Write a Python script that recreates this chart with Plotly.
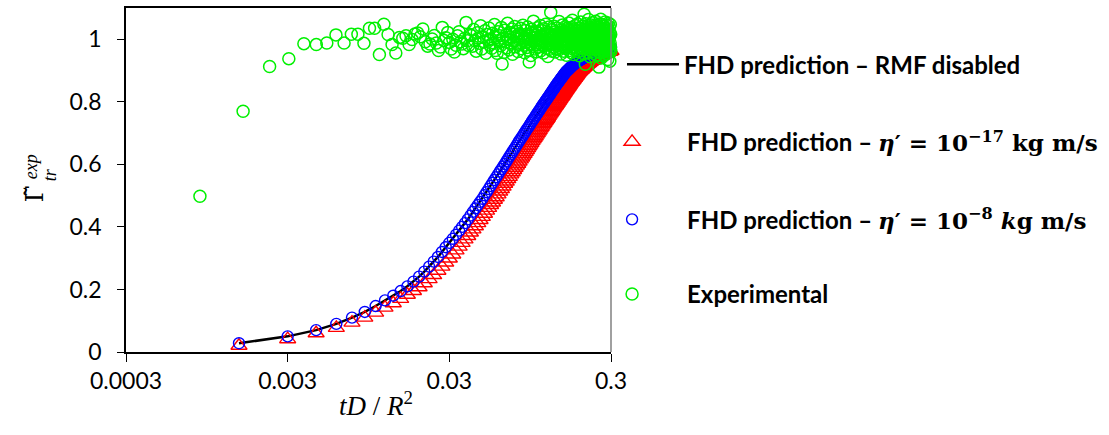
import math
import plotly.graph_objects as go

# ---------------------------------------------------------------------------
# Data
# ---------------------------------------------------------------------------
# FHD model output is sampled every 0.0015 in dimensionless time tD/R^2
TAU_STEP_FHD = 0.0015
N_FHD = 200
tau_fhd = [round(TAU_STEP_FHD * k, 4) for k in range(1, N_FHD + 1)]

# eta' = 1e-8 kg m/s
gamma_eta_1e8 = [
    0.028, 0.050, 0.070, 0.090, 0.110, 0.128, 0.147, 0.165, 0.180, 0.195,
    0.210, 0.225, 0.241, 0.257, 0.273, 0.289, 0.304, 0.320, 0.335, 0.349,
    0.362, 0.375, 0.388, 0.400, 0.412, 0.424, 0.436, 0.448, 0.459, 0.470,
    0.480, 0.490, 0.501, 0.511, 0.521, 0.531, 0.541, 0.550, 0.559, 0.568,
    0.577, 0.585, 0.593, 0.601, 0.609, 0.617, 0.625, 0.632, 0.639, 0.646,
    0.653, 0.660, 0.667, 0.674, 0.680, 0.686, 0.692, 0.698, 0.704, 0.710,
    0.716, 0.721, 0.727, 0.732, 0.738, 0.743, 0.748, 0.753, 0.758, 0.763,
    0.768, 0.773, 0.777, 0.782, 0.787, 0.791, 0.795, 0.800, 0.804, 0.808,
    0.812, 0.816, 0.820, 0.824, 0.828, 0.832, 0.836, 0.840, 0.843, 0.847,
    0.851, 0.854, 0.858, 0.861, 0.864, 0.868, 0.871, 0.874, 0.877, 0.880,
    0.883, 0.886, 0.889, 0.892, 0.895, 0.897, 0.899, 0.901, 0.903, 0.905,
    0.907, 0.909, 0.911, 0.913, 0.915, 0.917, 0.918, 0.920, 0.922, 0.923,
    0.925, 0.926, 0.928, 0.929, 0.930, 0.931, 0.932, 0.933, 0.934, 0.935,
    0.936, 0.937, 0.938, 0.939, 0.940, 0.941, 0.942, 0.943, 0.944, 0.945,
    0.946, 0.946, 0.947, 0.948, 0.949, 0.950, 0.950, 0.951, 0.952, 0.953,
    0.953, 0.954, 0.955, 0.955, 0.956, 0.957, 0.957, 0.958, 0.959, 0.960,
    0.960, 0.961, 0.961, 0.962, 0.962, 0.962, 0.963, 0.963, 0.964, 0.964,
    0.964, 0.965, 0.965, 0.966, 0.966, 0.966, 0.967, 0.967, 0.968, 0.968,
    0.968, 0.969, 0.969, 0.970, 0.970, 0.970, 0.971, 0.971, 0.971, 0.972,
    0.972, 0.972, 0.973, 0.973, 0.973, 0.974, 0.974, 0.974, 0.975, 0.975,
]

# eta' = 1e-17 kg m/s
gamma_eta_1e17 = [
    0.020, 0.041, 0.060, 0.077, 0.094, 0.110, 0.126, 0.142, 0.156, 0.170,
    0.183, 0.195, 0.207, 0.220, 0.233, 0.246, 0.260, 0.273, 0.286, 0.299,
    0.312, 0.325, 0.337, 0.349, 0.360, 0.371, 0.382, 0.392, 0.402, 0.412,
    0.422, 0.432, 0.442, 0.452, 0.461, 0.470, 0.478, 0.487, 0.495, 0.504,
    0.513, 0.521, 0.529, 0.538, 0.545, 0.553, 0.560, 0.568, 0.575, 0.582,
    0.589, 0.596, 0.602, 0.609, 0.616, 0.622, 0.628, 0.634, 0.640, 0.646,
    0.652, 0.658, 0.663, 0.669, 0.675, 0.680, 0.685, 0.690, 0.695, 0.700,
    0.705, 0.710, 0.715, 0.719, 0.724, 0.729, 0.733, 0.738, 0.742, 0.746,
    0.750, 0.755, 0.759, 0.763, 0.767, 0.771, 0.775, 0.779, 0.783, 0.787,
    0.790, 0.794, 0.797, 0.801, 0.804, 0.808, 0.811, 0.815, 0.818, 0.821,
    0.825, 0.828, 0.831, 0.835, 0.838, 0.841, 0.844, 0.847, 0.850, 0.853,
    0.856, 0.859, 0.862, 0.864, 0.867, 0.870, 0.872, 0.875, 0.877, 0.880,
    0.882, 0.885, 0.887, 0.890, 0.892, 0.895, 0.897, 0.898, 0.900, 0.902,
    0.903, 0.905, 0.907, 0.908, 0.910, 0.911, 0.913, 0.915, 0.916, 0.918,
    0.919, 0.920, 0.922, 0.923, 0.924, 0.925, 0.927, 0.928, 0.929, 0.930,
    0.931, 0.932, 0.932, 0.933, 0.934, 0.935, 0.936, 0.937, 0.937, 0.938,
    0.939, 0.940, 0.941, 0.941, 0.942, 0.943, 0.944, 0.945, 0.945, 0.946,
    0.946, 0.947, 0.948, 0.949, 0.949, 0.950, 0.950, 0.951, 0.952, 0.953,
    0.953, 0.954, 0.954, 0.955, 0.955, 0.956, 0.956, 0.957, 0.957, 0.958,
    0.959, 0.960, 0.960, 0.961, 0.961, 0.961, 0.962, 0.962, 0.962, 0.963,
]

# With the RMF switched off the prediction coincides with the eta' = 1e-8 run
gamma_rmf_off = gamma_eta_1e8

# Experimental record: first frame at 0.00086, then one frame every 0.00073
TAU0_EXP = 0.00013
TAU_STEP_EXP = 0.00073
N_EXP = 410
tau_exp = [round(TAU0_EXP + TAU_STEP_EXP * k, 5) for k in range(1, N_EXP + 1)]

gamma_exp = [
    0.498, 0.770, 0.913, 0.938, 0.986, 0.983, 0.988, 1.014, 0.988, 1.016,
    1.016, 0.987, 1.035, 1.035, 0.951, 1.048, 1.015, 0.983, 0.956, 1.006,
    1.003, 1.011, 0.983, 0.999, 1.017, 1.020, 1.008, 1.033, 0.992, 0.978,
    0.985, 1.001, 1.012, 0.988, 0.964, 0.975, 1.038, 0.996, 1.005, 1.022,
    0.990, 0.969, 1.000, 0.959, 0.981, 1.011, 1.024, 0.992, 0.985, 0.970,
    1.003, 1.054, 0.995, 0.980, 1.015, 1.012, 0.978, 1.031, 0.995, 0.962,
    1.021, 1.004, 0.987, 1.043, 0.969, 1.008, 0.993, 1.027, 0.955, 1.015,
    0.998, 1.036, 0.981, 1.002, 0.971, 1.019, 0.989, 1.047, 0.964, 1.006,
    0.955, 1.024, 0.996, 1.011, 0.979, 1.038, 0.921, 1.003, 0.958, 1.029,
    0.991, 1.014, 0.973, 1.051, 0.999, 0.966, 1.022, 1.007, 0.984, 1.033,
    0.952, 1.017, 0.994, 1.041, 0.976, 1.009, 0.988, 1.026, 0.961, 1.001,
    1.018, 0.983, 1.035, 0.970, 1.012, 0.997, 1.045, 0.981, 1.004, 0.957,
    1.028, 0.990, 1.016, 0.974, 1.039, 1.002, 0.965, 0.927, 0.986, 1.010,
    0.948, 1.032, 0.995, 1.019, 0.978, 1.058, 0.992, 1.006, 0.969, 1.025,
    0.984, 1.013, 0.960, 1.037, 0.998, 1.020, 0.975, 1.003, 0.989, 1.044,
    0.963, 1.011, 0.982, 1.027, 0.994, 1.008, 0.956, 1.034, 0.979, 1.016,
    0.993, 1.048, 0.971, 1.001, 0.986, 1.022, 0.945, 1.013, 0.997, 1.039,
    0.968, 1.005, 0.983, 1.086, 0.990, 1.017, 0.962, 1.031, 0.985, 1.009,
    0.974, 1.042, 0.996, 1.014, 0.959, 1.024, 0.988, 1.003, 0.970, 1.036,
    0.993, 1.011, 0.980, 1.015, 0.999, 1.057, 0.967, 1.021, 0.987, 1.006,
    0.953, 1.030, 0.992, 1.012, 0.977, 1.046, 0.984, 1.009, 0.962, 1.026,
    0.995, 1.018, 0.972, 1.040, 1.001, 0.986, 1.023, 0.949, 1.010, 0.998,
    1.035, 0.976, 1.007, 0.990, 1.052, 0.964, 1.016, 0.983, 1.029, 0.996,
    1.004, 0.958, 1.038, 0.981, 1.013, 0.993, 1.061, 0.970, 1.021, 0.988,
    1.008, 0.951, 1.033, 0.997, 1.017, 0.975, 1.044, 0.985, 1.002, 0.966,
    1.027, 0.991, 1.012, 0.979, 1.049, 0.960, 1.019, 0.994, 1.036, 0.982,
    1.005, 0.947, 1.025, 0.989, 1.014, 0.972, 1.055, 0.998, 1.010, 0.963,
    1.031, 0.986, 1.020, 0.976, 1.042, 0.995, 1.006, 0.954, 1.028, 1.080,
    0.984, 1.015, 0.969, 1.037, 0.920, 1.003, 0.990, 1.050, 0.973, 1.011,
    0.996, 1.024, 0.958, 1.033, 0.981, 1.008, 0.992, 1.063, 0.967, 1.018,
    0.987, 1.039, 0.975, 1.004, 0.944, 1.027, 0.993, 1.012, 0.978, 1.046,
    0.961, 1.021, 0.989, 1.034, 0.971, 1.009, 0.999, 1.053, 0.982, 1.016,
    0.955, 1.030, 0.994, 1.007, 0.968, 1.041, 0.985, 1.019, 0.976, 1.058,
    0.997, 1.013, 0.950, 1.026, 0.983, 1.044, 0.970, 1.005, 0.991, 1.032,
    0.962, 1.017, 0.988, 1.038, 0.977, 0.911, 1.022, 0.995, 1.049, 0.973,
    1.010, 0.957, 1.028, 0.986, 1.064, 0.979, 1.015, 0.940, 1.035, 0.992,
    1.003, 0.966, 1.047, 0.984, 1.020, 0.958, 1.031, 0.997, 1.011, 0.972,
    1.042, 0.988, 1.006, 0.949, 1.025, 0.981, 1.055, 0.993, 1.014, 0.963,
    1.036, 0.978, 1.009, 0.954, 1.029, 0.990, 1.045, 0.970, 1.018, 0.985,
    1.003, 0.935, 1.033, 0.976, 1.052, 0.995, 1.012, 0.959, 1.026, 0.982,
    1.040, 0.968, 1.007, 0.930, 1.021, 0.988, 1.047, 0.974, 1.015, 0.962,
]

x_ticks = [0.0003, 0.003, 0.03, 0.3]
x_tick_text = ["0.0003", "0.003", "0.03", "0.3"]
y_ticks = [0, 0.2, 0.4, 0.6, 0.8, 1.0]
y_tick_text = ["0", "0.2", "0.4", "0.6", "0.8", "1"]

# ---------------------------------------------------------------------------
# Figure geometry (pixels)
# ---------------------------------------------------------------------------
W, H = 1109, 435
PL, PR, PT, PB = 126, 612, 6, 352          # plot-area edges
PW, PH = PR - PL, PB - PT


def px_x(px):
    return (px - PL) / PW


def px_y(py):
    return (PB - py) / PH


SANS = "Lato"
MATH = "DejaVu Serif"
RED, BLUE, GREEN = "#FF0000", "#0000FF", "#00F000"


def math_span(s, size=23):
    return f'<span style="font-family:{MATH};font-size:{size}px">{s}</span>'


lbl_off = "<b>FHD prediction – RMF disabled</b>"
lbl_17 = ("<b>FHD prediction – " +
          math_span("<i>η</i>′ = 10<sup>−17</sup> kg m/s") + "</b>")
lbl_8 = ("<b>FHD prediction – " +
         math_span("<i>η</i>′ = 10<sup>−8</sup> <i>k</i>g m/s") + "</b>")
lbl_exp = "<b>Experimental</b>"

fig = go.Figure()

fig.add_trace(go.Scatter(
    x=tau_fhd, y=gamma_rmf_off, mode="lines", name=lbl_off,
    line=dict(color="black", width=2.5), legend="legend",
    cliponaxis=False,
))
fig.add_trace(go.Scatter(
    x=tau_fhd, y=gamma_eta_1e17, mode="markers", name=lbl_17,
    marker=dict(symbol="triangle-up-open", size=14, color=RED,
                line=dict(width=1.4, color=RED)),
    legend="legend2", cliponaxis=False,
))
fig.add_trace(go.Scatter(
    x=tau_fhd, y=gamma_eta_1e8, mode="markers", name=lbl_8,
    marker=dict(symbol="circle-open", size=11, color=BLUE,
                line=dict(width=1.4, color=BLUE)),
    legend="legend3", cliponaxis=False,
))
fig.add_trace(go.Scatter(
    x=tau_exp, y=gamma_exp, mode="markers", name=lbl_exp,
    marker=dict(symbol="circle-open", size=12, color=GREEN,
                line=dict(width=1.5, color=GREEN)),
    legend="legend4", cliponaxis=False,
))

legend_font = dict(family=SANS, size=24, color="black")
common_leg = dict(xanchor="left", yanchor="middle", bgcolor="rgba(0,0,0,0)",
                  borderwidth=0, font=legend_font, xref="paper", yref="paper")

# right-hand border of the plot area is drawn in grey
shapes = [dict(type="line", xref="x domain", yref="y domain",
               x0=1, x1=1, y0=0, y1=1,
               line=dict(color="#808080", width=1.5))]

annotations = [
    # x-axis title
    dict(text="<i>tD</i> / <i>R</i><sup>2</sup>", x=px_x(377), y=px_y(423),
         xref="paper", yref="paper", showarrow=False,
         font=dict(family="Liberation Serif", size=27, color="black")),
    # y-axis title: Gamma-tilde with sub/superscripts
    dict(text="Γ̃", x=px_x(19), y=px_y(193), xref="paper", yref="paper",
         showarrow=False, textangle=-90,
         font=dict(family=MATH, size=24, color="black")),
    dict(text="<i>exp</i>", x=px_x(19), y=px_y(166), xref="paper",
         yref="paper", showarrow=False, textangle=-90,
         font=dict(family="Liberation Serif", size=18, color="black")),
    dict(text="<i>tr</i>", x=px_x(38), y=px_y(174), xref="paper",
         yref="paper", showarrow=False, textangle=-90,
         font=dict(family="Liberation Serif", size=18, color="black")),
]

fig.update_layout(
    width=W, height=H,
    margin=dict(l=PL, r=W - PR, t=PT, b=H - PB, pad=0),
    paper_bgcolor="white", plot_bgcolor="white",
    font=dict(family=SANS, color="black"),
    xaxis=dict(
        type="log", range=[math.log10(0.0003), math.log10(0.3)],
        tickvals=x_ticks, ticktext=x_tick_text,
        ticks="outside", ticklen=8, tickwidth=1.2, tickcolor="black",
        showline=True, linecolor="black", linewidth=1.5, mirror=True,
        showgrid=False, zeroline=False,
        tickfont=dict(family=SANS, size=23, color="black"),
    ),
    yaxis=dict(
        range=[0, 1.1], tickvals=y_ticks, ticktext=y_tick_text,
        ticks="outside", ticklen=7, tickwidth=1.2, tickcolor="black",
        showline=True, linecolor="black", linewidth=1.5,
        showgrid=False, zeroline=False, ticklabelstandoff=11,
        tickfont=dict(family=SANS, size=23, color="black"),
    ),
    legend=dict(x=px_x(623), y=px_y(63), itemwidth=52, **common_leg),
    legend2=dict(x=px_x(578), y=px_y(141), itemwidth=100, **common_leg),
    legend3=dict(x=px_x(578), y=px_y(219), itemwidth=100, **common_leg),
    legend4=dict(x=px_x(578), y=px_y(294), itemwidth=100, **common_leg),
    shapes=shapes,
    annotations=annotations,
    showlegend=True,
)

fig.write_html("out.html")
